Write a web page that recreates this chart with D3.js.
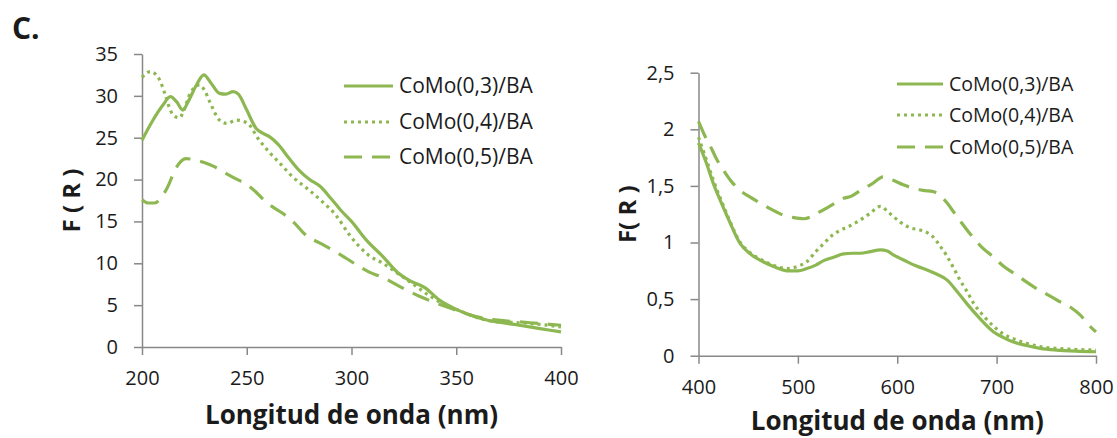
<!DOCTYPE html>
<html>
<head>
<meta charset="utf-8">
<script src="https://cdn.jsdelivr.net/npm/d3@7"></script>
<style>
	body { margin: 0; background: #fff; }
	svg text { font-family: 'Open Sans', sans-serif; fill: #1b1b1b; }
</style>
</head>
<body>
<svg id="chart" width="1117" height="438"></svg>
<script>
	'use strict';

	// series names (legend)
	var seriesNames = ['CoMo(0,3)/BA', 'CoMo(0,4)/BA', 'CoMo(0,5)/BA'];

	// UV region (left panel): [wavelength nm, F(R)]
	var uvCoMo03 = [[200, 24.7], [205, 27.0], [210, 28.9], [213.5, 29.9], [216.5, 29.3], [219.5, 28.3], [222, 29.3], [226, 31.3],
		[229.5, 32.5], [233, 31.5], [237, 30.3], [240, 30.2], [243.5, 30.5], [246, 30.2], [250, 28.3], [254.5, 26.1], [258, 25.5],
		[261, 25.1], [265, 24.2], [270, 22.6], [275, 21.1], [280, 20.0], [285, 19.2], [290, 17.8], [295, 16.3], [300, 15.0],
		[307, 12.8], [315, 10.8], [322, 8.9], [328, 7.9], [335, 7.1], [342, 5.6], [350, 4.5], [358, 3.7], [365, 3.2], [372, 2.9],
		[380, 2.6], [390, 2.2], [400, 1.8]];
	var uvCoMo04 = [[200, 32.2], [204, 32.9], [208, 32.1], [211, 30.2], [213.5, 28.3], [216, 27.5], [218, 27.4], [220, 28.3],
		[223, 30.3], [227.5, 31.3], [230, 30.6], [232.5, 29.2], [237, 27.1], [240.5, 26.7], [245, 27.1], [250, 26.8], [256, 24.7],
		[261, 23.2], [266, 21.9], [272, 20.3], [279, 18.9], [285, 17.6], [293, 15.6], [299, 13.4], [308, 11.0], [315, 10.0],
		[322, 8.8], [330, 7.4], [338, 6.0], [345, 5.0], [352, 4.3], [360, 3.5], [370, 3.0], [380, 2.9], [390, 2.7], [400, 2.4]];
	var uvCoMo05 = [[200, 17.6], [203, 17.2], [206, 17.2], [209, 17.8], [212, 19.0], [216.5, 21.5], [221, 22.5], [226, 22.3],
		[230, 22.0], [234, 21.6], [239, 20.9], [244, 20.2], [250, 19.4], [254, 18.6], [258, 17.6], [262, 16.8], [267, 16.0],
		[272, 15.0], [278.5, 13.3], [285, 12.4], [293, 11.3], [302.5, 9.8], [308, 9.0], [315, 8.3], [324, 7.1], [333, 6.0],
		[342, 5.1], [350, 4.4], [360, 3.6], [370, 3.2], [380, 3.0], [390, 2.8], [400, 2.6]];

	// visible region (right panel)
	var visCoMo03 = [[400, 1.88], [408, 1.70], [415, 1.52], [422, 1.37], [430, 1.21], [442, 0.99], [452, 0.90], [465, 0.83],
		[478, 0.78], [489, 0.75], [500, 0.75], [509, 0.77], [518, 0.80], [526, 0.84], [536, 0.87], [546, 0.90], [555, 0.905],
		[563, 0.905], [573, 0.92], [583, 0.935], [590, 0.925], [596, 0.89], [603, 0.86], [610, 0.83], [620, 0.79], [630, 0.757],
		[640, 0.72], [650, 0.67], [660, 0.57], [670, 0.46], [683, 0.33], [697, 0.21], [707, 0.16], [717, 0.12], [730, 0.09],
		[744, 0.065], [760, 0.05], [780, 0.04], [800, 0.035]];
	var visCoMo04 = [[400, 1.93], [408, 1.73], [415, 1.55], [422, 1.39], [430, 1.22], [442, 1.00], [452, 0.91], [465, 0.84],
		[478, 0.79], [489, 0.77], [500, 0.79], [509, 0.83], [518, 0.92], [526, 0.99], [534, 1.06], [543, 1.11], [553, 1.15],
		[563, 1.20], [573, 1.26], [583, 1.32], [592, 1.26], [603, 1.18], [613, 1.13], [623, 1.11], [636, 1.05], [643, 0.97],
		[650, 0.88], [657, 0.77], [663, 0.67], [670, 0.57], [677, 0.46], [687, 0.35], [697, 0.26], [707, 0.19], [717, 0.15],
		[730, 0.11], [744, 0.08], [760, 0.065], [780, 0.055], [800, 0.05]];
	var visCoMo05 = [[400, 2.07], [406, 1.95], [412, 1.85], [418, 1.74], [425, 1.64], [433, 1.54], [442, 1.46], [452, 1.40],
		[462, 1.35], [474, 1.29], [486, 1.24], [496, 1.22], [506, 1.21], [514, 1.23], [522, 1.27], [534, 1.33], [546, 1.39],
		[554, 1.41], [563, 1.46], [575, 1.52], [586, 1.58], [596, 1.55], [606, 1.51], [616, 1.48], [626, 1.46], [636, 1.45],
		[647, 1.38], [660, 1.23], [673, 1.08], [685, 0.96], [697, 0.87], [707, 0.79], [717, 0.73], [727, 0.67], [737, 0.61],
		[749, 0.55], [761, 0.49], [774, 0.43], [784, 0.36], [794, 0.26], [800, 0.21]];

	// tick values
	var uvXTicks = [200, 250, 300, 350, 400];
	var uvYTicks = [0, 5, 10, 15, 20, 25, 30, 35];
	var visXTicks = [400, 500, 600, 700, 800];
	var visYTicks = [0, 0.5, 1, 1.5, 2, 2.5];

	var green = '#8db851';
	var axisColor = '#888888';
	var dashes = [null, '3,4', '18,10'];

	var svg = d3.select('#chart');

	svg.append('text')
		.attr('x', 12).attr('y', 39)
		.attr('font-size', '30px').attr('font-weight', 'bold')
		.text('C.');

	function drawPanel(cfg) {
		var x = d3.scaleLinear().domain(cfg.xDomain).range([cfg.left, cfg.right]);
		var y = d3.scaleLinear().domain(cfg.yDomain).range([cfg.bottom, cfg.top]);
		var fmt = function (d) { return String(d).replace('.', ','); };

		var gx = svg.append('g')
			.attr('transform', 'translate(0,' + cfg.bottom + ')')
			.call(d3.axisBottom(x).tickValues(cfg.xTicks).tickSize(8).tickSizeOuter(0).tickPadding(16).tickFormat(fmt));
		var gy = svg.append('g')
			.attr('transform', 'translate(' + cfg.left + ',0)')
			.call(d3.axisLeft(y).tickValues(cfg.yTicks).tickSize(8).tickSizeOuter(0).tickPadding(16).tickFormat(fmt));
		[gx, gy].forEach(function (g) {
			g.select('.domain').attr('stroke', axisColor).attr('stroke-width', 1.5);
			g.selectAll('.tick line').attr('stroke', axisColor).attr('stroke-width', 1.5);
			g.selectAll('.tick text')
				.attr('font-family', "'Open Sans', sans-serif")
				.attr('font-size', '20px')
				.attr('fill', '#1b1b1b');
		});

		var line = d3.line()
			.x(function (d) { return x(d[0]); })
			.y(function (d) { return y(d[1]); })
			.curve(d3.curveMonotoneX);

		cfg.series.forEach(function (s, i) {
			svg.append('path')
				.datum(s)
				.attr('fill', 'none')
				.attr('stroke', green)
				.attr('stroke-width', 3.2)
				.attr('stroke-dasharray', dashes[i])
				.attr('d', line);
		});

		// legend
		seriesNames.forEach(function (name, i) {
			var ly = cfg.legendY[i];
			svg.append('line')
				.attr('x1', cfg.legendX).attr('x2', cfg.legendX + cfg.legendLen)
				.attr('y1', ly).attr('y2', ly)
				.attr('stroke', green).attr('stroke-width', 3.2)
				.attr('stroke-dasharray', dashes[i]);
			svg.append('text')
				.attr('x', cfg.legendX + cfg.legendLen + 6).attr('y', ly)
				.attr('dy', '0.35em')
				.attr('font-size', cfg.legendFont)
				.text(name);
		});

		// axis titles
		svg.append('text')
			.attr('x', (cfg.left + cfg.right) / 2).attr('y', cfg.xTitleY)
			.attr('text-anchor', 'middle')
			.attr('font-size', '26px').attr('font-weight', 'bold')
			.text('Longitud de onda (nm)');
		svg.append('text')
			.attr('transform', 'translate(' + cfg.yTitleX + ',' + (cfg.top + cfg.bottom) / 2 + ') rotate(-90)')
			.attr('text-anchor', 'middle')
			.attr('font-size', '24px').attr('font-weight', 'bold')
			.text(cfg.yTitle);
	}

	drawPanel({
		xDomain: [200, 400], yDomain: [0, 35],
		left: 142, right: 561, top: 54, bottom: 347,
		xTicks: uvXTicks, yTicks: uvYTicks,
		series: [uvCoMo03, uvCoMo04, uvCoMo05],
		legendX: 344, legendLen: 49, legendY: [86, 122, 157], legendFont: '21px',
		xTitleY: 424, yTitleX: 80, yTitle: 'F ( R )'
	});

	drawPanel({
		xDomain: [400, 800], yDomain: [0, 2.5],
		left: 698.5, right: 1096, top: 72.7, bottom: 355.7,
		xTicks: visXTicks, yTicks: visYTicks,
		series: [visCoMo03, visCoMo04, visCoMo05],
		legendX: 897, legendLen: 46, legendY: [84, 115, 147], legendFont: '19.5px',
		xTitleY: 430, yTitleX: 636, yTitle: 'F( R )'
	});
</script>
</body>
</html>
